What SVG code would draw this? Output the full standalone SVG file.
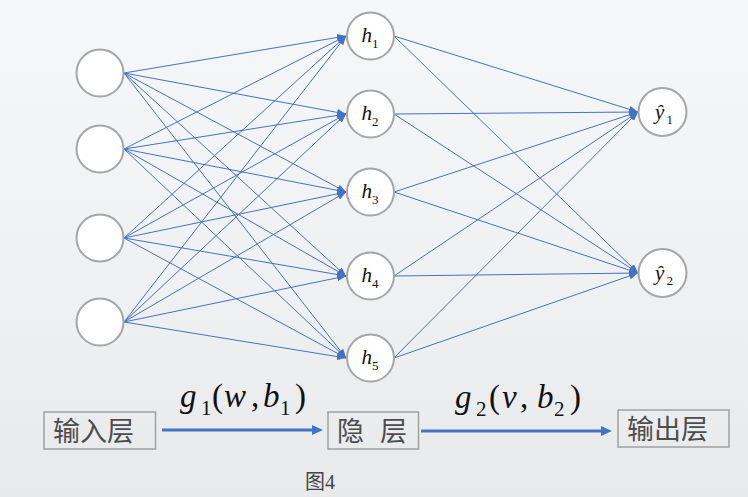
<svg xmlns="http://www.w3.org/2000/svg" width="748" height="497" viewBox="0 0 748 497">
<style>
.bg{fill:url(#bgGrad)}
.node circle{fill:#ffffff;stroke:#a6a6a6;stroke-width:2}
.edge{stroke:#4472c4;stroke-width:1;fill:none;marker-end:url(#arr)}
.flow{stroke:#4472c4;stroke-width:3;fill:none;marker-end:url(#arrBig)}
.box rect{fill:none;stroke:#a0a0a0;stroke-width:1.5}
.cjk{font-family:"Noto Sans CJK SC","Noto Sans CJK JP",sans-serif;font-size:27px;fill:#4d4d4d}
.it{font-family:"Liberation Serif","Times New Roman",serif;font-style:italic;fill:#111}
.rm{font-family:"Liberation Serif","Times New Roman",serif;fill:#111}
.cap{font-family:"Liberation Serif","Noto Sans CJK SC",serif;font-size:20px;fill:#444}
</style>
<defs>
<linearGradient id="bgGrad" x1="0" y1="0" x2="0" y2="1">
<stop offset="0" stop-color="#f6f7f9"/>
<stop offset="0.6" stop-color="#eff0f2"/>
<stop offset="1" stop-color="#e8e9eb"/>
</linearGradient>
<marker id="arr" markerUnits="userSpaceOnUse" markerWidth="9" markerHeight="7" refX="9" refY="3.5" orient="auto">
<path d="M0,0 L9,3.5 L0,7 z" fill="#4472c4"/>
</marker>
<marker id="arrBig" markerUnits="userSpaceOnUse" markerWidth="11" markerHeight="10" refX="0" refY="5" orient="auto">
<path d="M0,0 L11,5 L0,10 z" fill="#4472c4"/>
</marker>
</defs>
<rect class="bg" x="0" y="0" width="748" height="497"/>

<g id="connectors">
<line class="edge" x1="124" y1="73" x2="346" y2="36"/>
<line class="edge" x1="124" y1="73" x2="346" y2="114"/>
<line class="edge" x1="124" y1="73" x2="346" y2="192"/>
<line class="edge" x1="124" y1="73" x2="346" y2="276"/>
<line class="edge" x1="124" y1="73" x2="346" y2="358"/>
<line class="edge" x1="124" y1="149" x2="346" y2="36"/>
<line class="edge" x1="124" y1="149" x2="346" y2="114"/>
<line class="edge" x1="124" y1="149" x2="346" y2="192"/>
<line class="edge" x1="124" y1="149" x2="346" y2="276"/>
<line class="edge" x1="124" y1="149" x2="346" y2="358"/>
<line class="edge" x1="124" y1="238" x2="346" y2="36"/>
<line class="edge" x1="124" y1="238" x2="346" y2="114"/>
<line class="edge" x1="124" y1="238" x2="346" y2="192"/>
<line class="edge" x1="124" y1="238" x2="346" y2="276"/>
<line class="edge" x1="124" y1="238" x2="346" y2="358"/>
<line class="edge" x1="124" y1="322" x2="346" y2="36"/>
<line class="edge" x1="124" y1="322" x2="346" y2="114"/>
<line class="edge" x1="124" y1="322" x2="346" y2="192"/>
<line class="edge" x1="124" y1="322" x2="346" y2="276"/>
<line class="edge" x1="124" y1="322" x2="346" y2="358"/>
<line class="edge" x1="394" y1="36" x2="638" y2="112"/>
<line class="edge" x1="394" y1="36" x2="638" y2="273"/>
<line class="edge" x1="394" y1="114" x2="638" y2="112"/>
<line class="edge" x1="394" y1="114" x2="638" y2="273"/>
<line class="edge" x1="394" y1="192" x2="638" y2="112"/>
<line class="edge" x1="394" y1="192" x2="638" y2="273"/>
<line class="edge" x1="394" y1="276" x2="638" y2="112"/>
<line class="edge" x1="394" y1="276" x2="638" y2="273"/>
<line class="edge" x1="394" y1="358" x2="638" y2="112"/>
<line class="edge" x1="394" y1="358" x2="638" y2="273"/>
<line class="flow" x1="162" y1="430" x2="312" y2="430"/>
<line class="flow" x1="421" y1="431" x2="601" y2="431"/>
</g>

<g id="in1" class="node"><circle cx="100" cy="73" r="23.5"/></g>
<g id="in2" class="node"><circle cx="100" cy="149" r="23.5"/></g>
<g id="in3" class="node"><circle cx="100" cy="238" r="23.5"/></g>
<g id="in4" class="node"><circle cx="100" cy="322" r="23.5"/></g>

<g id="h1" class="node"><circle cx="370.5" cy="36" r="23.5"/>
<text class="it" x="361.5" y="42" font-size="21">h</text><text class="rm" x="372" y="48" font-size="13">1</text></g>
<g id="h2" class="node"><circle cx="370.5" cy="114" r="23.5"/>
<text class="it" x="361.5" y="120" font-size="21">h</text><text class="rm" x="372" y="126" font-size="13">2</text></g>
<g id="h3" class="node"><circle cx="370.5" cy="192" r="23.5"/>
<text class="it" x="361.5" y="198" font-size="21">h</text><text class="rm" x="372" y="204" font-size="13">3</text></g>
<g id="h4" class="node"><circle cx="370.5" cy="276" r="23.5"/>
<text class="it" x="361.5" y="282" font-size="21">h</text><text class="rm" x="372" y="288" font-size="13">4</text></g>
<g id="h5" class="node"><circle cx="370.5" cy="358" r="23.5"/>
<text class="it" x="361.5" y="364" font-size="21">h</text><text class="rm" x="372" y="370" font-size="13">5</text></g>

<g id="y1" class="node"><circle cx="662.5" cy="112" r="24"/>
<text class="it" x="655" y="119" font-size="21">ŷ</text><text class="rm" x="666.5" y="124" font-size="13">1</text></g>
<g id="y2" class="node"><circle cx="662.5" cy="273" r="24"/>
<text class="it" x="655" y="280" font-size="21">ŷ</text><text class="rm" x="666.5" y="285" font-size="13">2</text></g>

<g id="label-g1">
<text class="it" x="180" y="407" font-size="33">g</text>
<text class="rm" x="201" y="415" font-size="21">1</text>
<text class="rm" x="212" y="407" font-size="33">(</text>
<text class="it" x="224" y="407" font-size="33">w</text>
<text class="rm" x="251" y="407" font-size="33">,</text>
<text class="it" x="263" y="407" font-size="33">b</text>
<text class="rm" x="280" y="415" font-size="21">1</text>
<text class="rm" x="295" y="407" font-size="33">)</text>
</g>
<g id="label-g2">
<text class="it" x="455" y="408" font-size="33">g</text>
<text class="rm" x="476" y="416" font-size="21">2</text>
<text class="rm" x="489" y="408" font-size="33">(</text>
<text class="it" x="502" y="408" font-size="33">v</text>
<text class="rm" x="520" y="408" font-size="33">,</text>
<text class="it" x="537" y="408" font-size="33">b</text>
<text class="rm" x="554" y="416" font-size="21">2</text>
<text class="rm" x="570" y="408" font-size="33">)</text>
</g>

<g id="box-input" class="box"><rect x="44" y="412" width="111.5" height="37"/>
<text class="cjk" x="53" y="441">输入层</text></g>
<g id="box-hidden" class="box"><rect x="328" y="412" width="90.5" height="37"/>
<text class="cjk" x="337" y="441">隐</text><text class="cjk" x="380" y="441">层</text></g>
<g id="box-output" class="box"><rect x="618" y="410" width="111" height="37"/>
<text class="cjk" x="627" y="439">输出层</text></g>

<text class="cap" x="305" y="489">图4</text>
</svg>
